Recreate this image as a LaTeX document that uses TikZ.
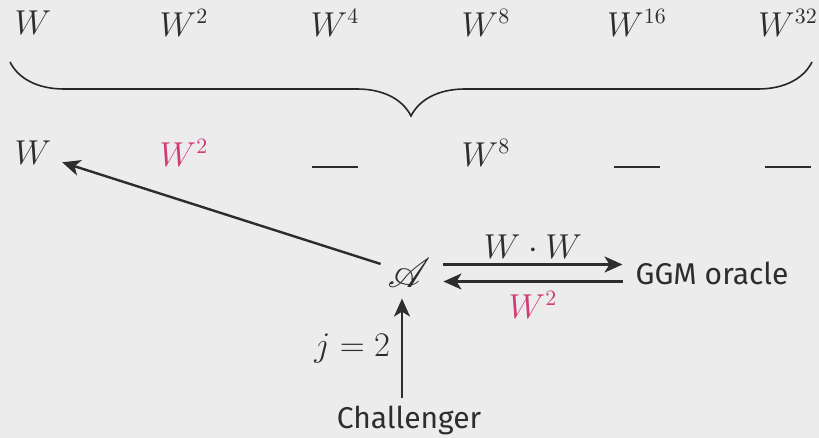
\documentclass[tikz,border=0pt]{standalone}
\usepackage{fontspec}
\setmainfont{Fira Sans}
\usepackage{amsmath,mathrsfs}
\usetikzlibrary{arrows.meta,positioning,decorations.pathreplacing}
\definecolor{bgGray}{RGB}{236,236,236}
\definecolor{inkGray}{RGB}{45,45,45}
\definecolor{hlPink}{RGB}{208,58,118}
\tikzset{
  lbl/.style={text=inkGray,font=\fontsize{16}{19}\selectfont},
  sanslbl/.style={text=inkGray,font=\fontsize{15}{18}\selectfont},
  arr/.style={-{Stealth[length=9pt,width=8pt,inset=2.5pt]},inkGray,line width=1.2pt},
  blank/.style={text=inkGray,font=\fontsize{16}{19}\selectfont,inner sep=0pt}
}
\begin{document}
\begin{tikzpicture}[x=0.5pt,y=-0.5pt]
    \fill[bgGray] (0,0) rectangle (819,438);
    \useasboundingbox (0,0) rectangle (819,438);

    % top row of powers
    \node[lbl] (t1) at (33,23) {$W$};
    \node[lbl] (t2) at (184,23) {$W^2$};
    \node[lbl] (t4) at (335,23) {$W^4$};
    \node[lbl] (t8) at (486,23) {$W^8$};
    \node[lbl] (t16) at (637,23) {$W^{16}$};
    \node[lbl] (t32) at (788,23) {$W^{32}$};

    % brace
    \draw[decorate,decoration={brace,mirror,amplitude=27pt},line width=0.8pt,black!85]
      (10,62) -- (812,62);

    % stored values
    \node[lbl] (w1) at (33,153) {$W$};
    \node[lbl,text=hlPink] (w2) at (184,153) {$W^2$};
    \node[blank] (w4) at (335,167) {\rule{23pt}{0.8pt}};
    \node[lbl] (w8) at (486,153) {$W^8$};
    \node[blank] (w16) at (637,167) {\rule{23pt}{0.8pt}};
    \node[blank] (w32) at (788,167) {\rule{23pt}{0.8pt}};

    % adversary and oracle
    \node[lbl,font=\fontsize{21}{24}\selectfont] (adv) at (409,273) {$\mathscr{A}$};
    \node[sanslbl] (ggm) at (712,273) {GGM oracle};
    \node[sanslbl] (chal) at (409,420) {Challenger};

    \draw[arr,shorten >=2pt] (adv) -- (w1);
    \draw[arr,shorten <=3pt,shorten >=3pt] ([yshift=4.25pt]adv.east) -- ([yshift=4.25pt]ggm.west)
      node[lbl,midway,above=-1pt] (req) {$W\cdot W$};
    \draw[arr,shorten <=3pt,shorten >=3pt] ([yshift=-4.25pt]ggm.west) -- ([yshift=-4.25pt]adv.east)
      node[lbl,text=hlPink,midway,below=1pt] (resp) {$W^2$};
    \draw[arr] ([xshift=-3.5pt]chal.north) -- ([xshift=-3.5pt,yshift=-2pt]chal.north |- adv.south)
      node[lbl,midway,left=2pt] (jval) {$j=2$};
\end{tikzpicture}
\end{document}
